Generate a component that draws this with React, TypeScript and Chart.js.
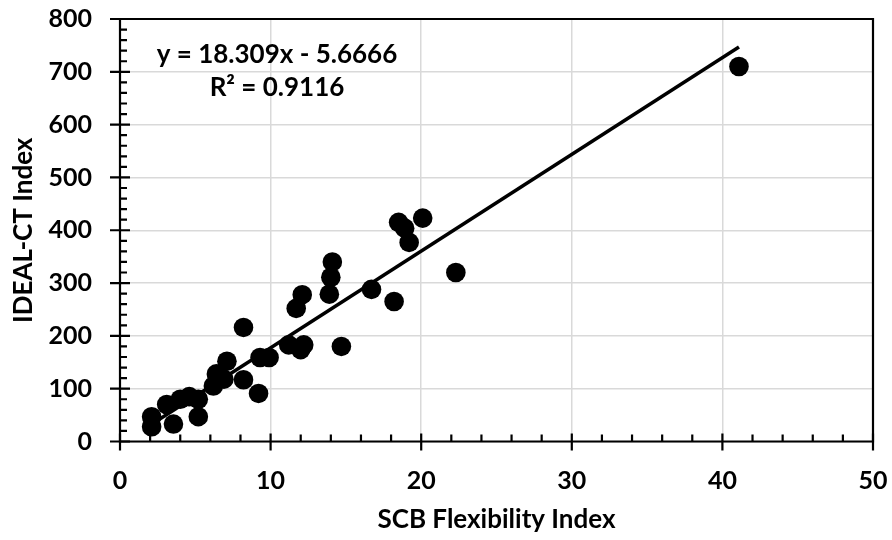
import React, { useEffect, useRef } from "react";
import { Chart, registerables } from "chart.js";

Chart.register(...registerables);

const scbIndex = [2.1, 2.1, 3.1, 3.55, 4.0, 4.6, 5.2, 5.2, 6.2, 6.4, 6.9, 7.1, 8.2, 8.2, 9.2, 9.3, 9.9, 11.2, 11.7, 12.0, 12.1, 12.2, 13.9, 14.0, 14.1, 14.7, 16.7, 18.2, 18.5, 18.9, 19.2, 20.1, 22.3, 41.1];
const idealCt = [28, 47, 70, 33, 80, 85, 47, 80, 105, 128, 118, 152, 117, 216, 91, 159, 159, 183, 252, 174, 278, 183, 279, 311, 340, 180, 288, 265, 415, 404, 377, 423, 320, 710];
const slope = 18.309;
const intercept = -5.6666;
const equationText = "y = 18.309x - 5.6666";
const r2Text = "R\u00b2 = 0.9116";
const xTitle = "SCB Flexibility Index";
const yTitle = "IDEAL-CT Index";

const FONT = "Lato, 'Open Sans', sans-serif";

export default function App() {
  const ref = useRef<HTMLCanvasElement | null>(null);

  useEffect(() => {
    document.body.style.margin = "0";
    const canvas = ref.current;
    if (!canvas) return;
    const xMin = Math.min(...scbIndex);
    const xMax = Math.max(...scbIndex);
    const points = scbIndex.map((x, i) => ({ x, y: idealCt[i] }));
    const trend = [
      { x: xMin, y: slope * xMin + intercept },
      { x: xMax, y: slope * xMax + intercept },
    ];

    const zeroPad = (s: any) => {
      s.paddingTop = 0;
      s.paddingBottom = 0;
      s.paddingLeft = 0;
      s.paddingRight = 0;
    };

    const axesPlugin = {
      id: "excelAxes",
      beforeDatasetsDraw(chart: any) {
        const { ctx, chartArea, scales } = chart;
        const xs = scales.x;
        const ys = scales.y;
        ctx.save();
        ctx.strokeStyle = "#000";
        ctx.lineWidth = 2.2;
        ctx.lineCap = "butt";
        ctx.beginPath();
        ctx.rect(chartArea.left, chartArea.top, chartArea.right - chartArea.left, chartArea.bottom - chartArea.top);
        ctx.stroke();
        ctx.beginPath();
        for (let v = 0; v <= 800; v += 20) {
          const py = ys.getPixelForValue(v);
          if (v % 100 === 0) {
            ctx.moveTo(chartArea.left - 10, py);
            ctx.lineTo(chartArea.left + 10, py);
          } else {
            ctx.moveTo(chartArea.left, py);
            ctx.lineTo(chartArea.left + 7, py);
          }
        }
        for (let v = 0; v <= 50; v += 2) {
          const px = xs.getPixelForValue(v);
          if (v % 10 === 0) {
            ctx.moveTo(px, chartArea.bottom - 8);
            ctx.lineTo(px, chartArea.bottom + 9);
          } else {
            ctx.moveTo(px, chartArea.bottom);
            ctx.lineTo(px, chartArea.bottom - 7);
          }
        }
        ctx.stroke();
        ctx.restore();
      },
      afterDraw(chart: any) {
        const { ctx } = chart;
        ctx.save();
        ctx.fillStyle = "#000";
        ctx.font = `bold 26px ${FONT}`;
        ctx.textAlign = "center";
        ctx.textBaseline = "alphabetic";
        ctx.fillText(equationText, 277, 63);
        ctx.fillText(r2Text, 277, 96);
        ctx.restore();
      },
    };

    const chart = new Chart(canvas, {
      type: "scatter",
      data: {
        datasets: [
          {
            type: "line",
            data: trend,
            borderColor: "#000",
            borderWidth: 3.5,
            pointRadius: 0,
            fill: false,
            order: 0,
          },
          {
            type: "scatter",
            data: points,
            backgroundColor: "#000",
            borderColor: "#000",
            borderWidth: 0,
            pointRadius: 9.8,
            order: 1,
          },
        ],
      },
      options: {
        responsive: false,
        animation: false,
        devicePixelRatio: 1,
        layout: { padding: { top: 19, right: 19, bottom: 0, left: 0 } },
        plugins: { legend: { display: false }, tooltip: { enabled: false } },
        scales: {
          x: {
            type: "linear",
            min: 0,
            max: 50,
            ticks: { stepSize: 10, color: "#000", font: { family: FONT, size: 25, weight: "bold" }, padding: 24 },
            grid: { color: "#d9d9d9", lineWidth: 1.5, drawTicks: false },
            border: { display: false },
            title: { display: true, text: xTitle, color: "#000", font: { family: FONT, size: 26, weight: "bold" }, padding: { top: 0, bottom: 5 } },
            afterFit: (s: any) => { s.height = 98.5; zeroPad(s); },
          },
          y: {
            type: "linear",
            min: 0,
            max: 800,
            ticks: { stepSize: 100, color: "#000", font: { family: FONT, size: 25, weight: "bold" }, padding: 28 },
            grid: { color: "#d9d9d9", lineWidth: 1.5, drawTicks: false },
            border: { display: false },
            title: { display: true, text: yTitle, color: "#000", font: { family: FONT, size: 26, weight: "bold" }, padding: { top: 8, bottom: 0 } },
            afterFit: (s: any) => { s.width = 120; zeroPad(s); },
          },
        },
      },
      plugins: [axesPlugin],
    } as any);
    return () => chart.destroy();
  }, []);

  return (
    <div style={{ width: 892, height: 540 }}>
      <canvas ref={ref} width={892} height={540} style={{ display: "block" }} />
    </div>
  );
}
